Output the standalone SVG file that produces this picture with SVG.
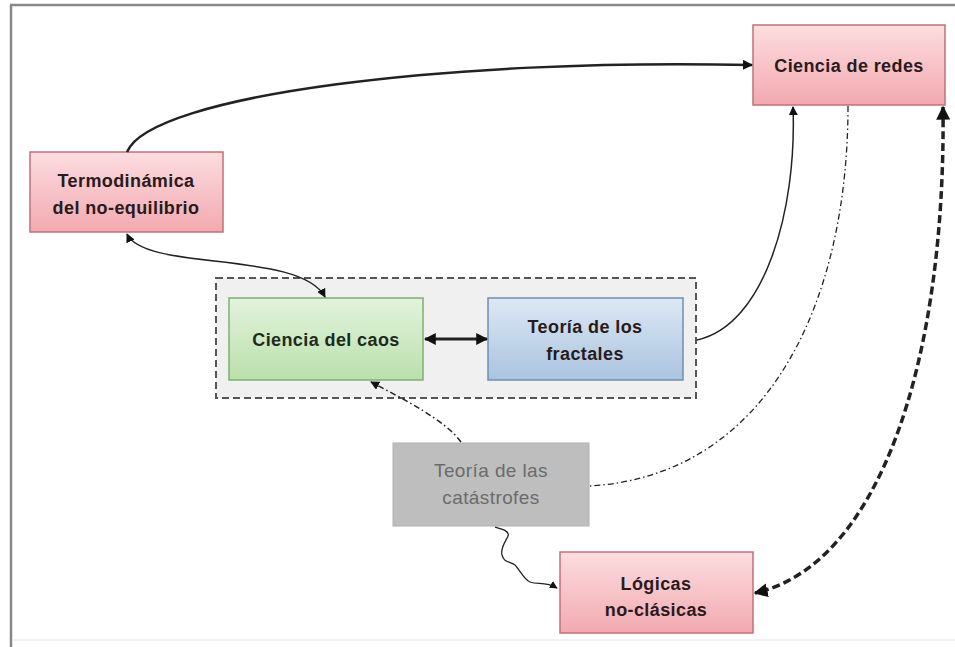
<svg xmlns="http://www.w3.org/2000/svg" width="955" height="647" viewBox="0 0 955 647">
<defs>
<linearGradient id="gPink" x1="0" y1="0" x2="0" y2="1">
<stop offset="0" stop-color="#fcdde0"/><stop offset="1" stop-color="#f2a9b0"/>
</linearGradient>
<linearGradient id="gGreen" x1="0" y1="0" x2="0" y2="1">
<stop offset="0" stop-color="#e3f3dd"/><stop offset="1" stop-color="#b9e0ab"/>
</linearGradient>
<linearGradient id="gBlue" x1="0" y1="0" x2="0" y2="1">
<stop offset="0" stop-color="#dde8f4"/><stop offset="1" stop-color="#a9c3df"/>
</linearGradient>
<marker id="ah" viewBox="0 0 10 10" refX="9" refY="5" markerWidth="4" markerHeight="4" orient="auto-start-reverse">
<path d="M0,0 L10,5 L0,10 z" fill="#111"/>
</marker>
<marker id="ahs" viewBox="0 0 10 10" refX="9" refY="5" markerWidth="6" markerHeight="6" orient="auto-start-reverse">
<path d="M0,0 L10,5 L0,10 z" fill="#111"/>
</marker>
</defs>
<style>
.lbl{font-family:"Liberation Sans",Arial,sans-serif;font-size:18px;font-weight:bold;fill:#2a1a1c;text-anchor:middle;letter-spacing:0.4px}
.pink{fill:url(#gPink);stroke:#c2707a;stroke-width:1.5}
.c{fill:none;stroke:#222}
</style>
<rect x="0" y="0" width="955" height="647" fill="#ffffff"/>
<g id="frame" fill="none">
<line x1="11" y1="5" x2="11" y2="647" stroke="#888" stroke-width="2.5"/>
<line x1="10" y1="5" x2="955" y2="5" stroke="#888" stroke-width="2.5"/>
<line x1="12" y1="640" x2="955" y2="640" stroke="#eee" stroke-width="1.5"/>
</g>
<g id="grupo">
<rect x="216" y="278" width="480" height="120" fill="#f0f0f0" stroke="#555" stroke-width="2" stroke-dasharray="7,4"/>
</g>
<g id="redes">
<rect class="pink" x="753" y="25" width="192" height="80"/>
<text class="lbl" x="849" y="72">Ciencia de redes</text>
</g>
<g id="termo">
<rect class="pink" x="30" y="152" width="193" height="80"/>
<text class="lbl" x="126" y="187">Termodinámica</text>
<text class="lbl" x="126" y="214">del no-equilibrio</text>
</g>
<g id="caos">
<rect x="229" y="298" width="194" height="82" fill="url(#gGreen)" stroke="#7fb06e" stroke-width="1.5"/>
<text class="lbl" x="326" y="346" style="fill:#1e2a1c">Ciencia del caos</text>
</g>
<g id="fractales">
<rect x="488" y="298" width="195" height="82" fill="url(#gBlue)" stroke="#6f8fb3" stroke-width="1.5"/>
<text class="lbl" x="585" y="333">Teoría de los</text>
<text class="lbl" x="585" y="360">fractales</text>
</g>
<g id="catastrofes">
<rect x="393" y="443" width="196" height="83" fill="#bebebe" stroke="#b0b0b0" stroke-width="1"/>
<text class="lbl" x="491" y="477" style="fill:#6b6b6b;font-weight:normal;font-size:19px">Teoría de las</text>
<text class="lbl" x="491" y="504" style="fill:#6b6b6b;font-weight:normal;font-size:19px">catástrofes</text>
</g>
<g id="logicas">
<rect class="pink" x="560" y="552" width="193" height="81"/>
<text class="lbl" x="656" y="590">Lógicas</text>
<text class="lbl" x="656" y="616">no-clásicas</text>
</g>
<g id="connectors">
<path class="c" d="M127,152 C150,95 450,58 752,65" stroke-width="2.5" marker-end="url(#ah)"/>
<path class="c" d="M127,234 C145,272 300,250 325,297" stroke-width="1.5" marker-start="url(#ahs)" marker-end="url(#ahs)"/>
<path class="c" d="M425,339 L487,339" stroke-width="3" marker-start="url(#ah)" marker-end="url(#ah)"/>
<path class="c" d="M697,340 C765,325 797,210 793,107" stroke-width="1.5" marker-end="url(#ahs)"/>
<path class="c" d="M848,106 C848,300 770,475 590,486" stroke="#888" stroke-width="1.3" stroke-dasharray="6,3,1.5,3"/>
<path class="c" d="M943,107 C946,360 880,565 755,593" stroke-width="3.5" stroke-dasharray="8,4" marker-start="url(#ah)" marker-end="url(#ah)"/>
<path class="c" d="M461,442 C445,420 405,400 371,382" stroke="#888" stroke-width="1.5" stroke-dasharray="6,3,1.5,3" marker-end="url(#ahs)"/>
<path class="c" d="M495,527 C502,529 510,531 508,536 C506,541 500,548 502,555 C504,563 510,561 515,565 C520,570 524,580 530,582 C538,585 545,581 557,588" stroke="#777" stroke-width="1.3" marker-end="url(#ahs)"/>
</g>
</svg>
